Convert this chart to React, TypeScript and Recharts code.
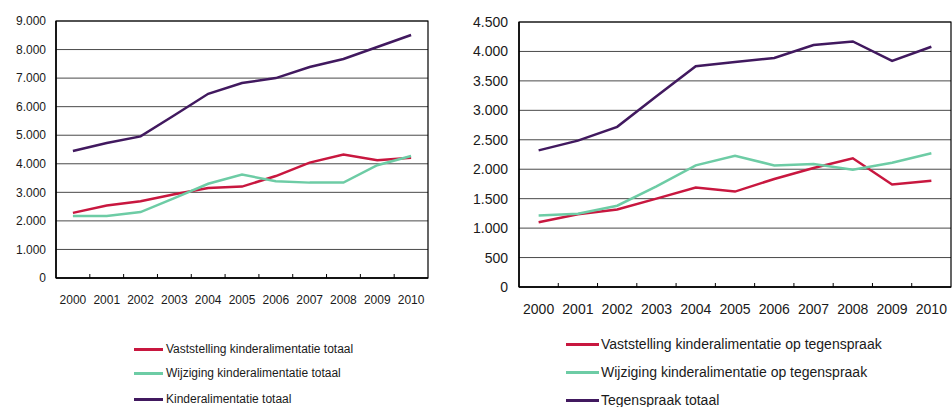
import React from 'react';
import { LineChart, Line, XAxis, YAxis, CartesianGrid, ReferenceArea } from 'recharts';

const years = ['2000', '2001', '2002', '2003', '2004', '2005', '2006', '2007', '2008', '2009', '2010'];

// Left chart: totals
const leftVaststelling = [2280, 2540, 2690, 2930, 3150, 3200, 3570, 4040, 4320, 4120, 4210];
const leftWijziging = [2170, 2170, 2310, 2800, 3300, 3620, 3390, 3340, 3340, 3950, 4270];
const leftTotaal = [4450, 4730, 4960, 5700, 6450, 6830, 7000, 7390, 7670, 8090, 8510];
const leftTicks = [0, 1000, 2000, 3000, 4000, 5000, 6000, 7000, 8000, 9000];
const leftNames = [
  'Vaststelling kinderalimentatie totaal',
  'Wijziging kinderalimentatie totaal',
  'Kinderalimentatie totaal',
];

// Right chart: op tegenspraak
const rightVaststelling = [1100, 1235, 1315, 1500, 1690, 1620, 1835, 2020, 2185, 1740, 1805];
const rightWijziging = [1215, 1245, 1380, 1710, 2065, 2230, 2065, 2090, 1990, 2110, 2270];
const rightTotaal = [2320, 2485, 2720, 3240, 3750, 3820, 3890, 4110, 4170, 3840, 4080];
const rightTicks = [0, 500, 1000, 1500, 2000, 2500, 3000, 3500, 4000, 4500];
const rightNames = [
  'Vaststelling kinderalimentatie op tegenspraak',
  'Wijziging kinderalimentatie op tegenspraak',
  'Tegenspraak totaal',
];

const colors = ['#C8173F', '#6DCCA5', '#41195F'];
const FONT = '"Liberation Sans", Arial, Helvetica, sans-serif';
const TEXT = '#1a1a1a';

const fmt = (n: number) => String(n).replace(/\B(?=(\d{3})+(?!\d))/g, '.');

const leftData = years.map((y, i) => ({ year: y, a: leftVaststelling[i], b: leftWijziging[i], c: leftTotaal[i] }));
const rightData = years.map((y, i) => ({ year: y, a: rightVaststelling[i], b: rightWijziging[i], c: rightTotaal[i] }));

function makeXTick(fontSize: number, tickMargin: number, half: number) {
  return (props: any) => {
    const { x, y, payload, index } = props;
    const axisY = y - tickMargin;
    return (
      <g>
        {index > 0 ? (
          <line x1={x - half} x2={x - half} y1={axisY} y2={axisY - 4} stroke="#000" strokeWidth={1} />
        ) : null}
        <text x={x} y={y} dy="0.71em" textAnchor="middle" fontSize={fontSize} fill={TEXT} fontFamily={FONT}>
          {payload.value}
        </text>
      </g>
    );
  };
}

type ChartProps = {
  data: any[];
  ticks: number[];
  width: number;
  height: number;
  margin: { top: number; right: number; left: number; bottom: number };
  yWidth: number;
  xHeight: number;
  fontSize: number;
  xTickMargin: number;
  yTickMargin: number;
  names: string[];
};

function Chart(p: ChartProps) {
  const max = p.ticks[p.ticks.length - 1];
  const plotW = p.width - p.margin.left - p.margin.right - p.yWidth;
  const half = plotW / years.length / 2;
  return (
    <LineChart width={p.width} height={p.height} data={p.data} margin={p.margin}>
      <CartesianGrid vertical={false} stroke="#4a4a4a" strokeWidth={1} />
      <XAxis
        dataKey="year"
        scale="band"
        interval={0}
        height={p.xHeight}
        axisLine={{ stroke: '#000', strokeWidth: 1.5 }}
        tickLine={false}
        tickSize={0}
        tickMargin={p.xTickMargin}
        tick={makeXTick(p.fontSize, p.xTickMargin, half)}
      />
      <YAxis
        domain={[0, max]}
        ticks={p.ticks}
        interval={0}
        width={p.yWidth}
        axisLine={{ stroke: '#000', strokeWidth: 1.5 }}
        tickLine={false}
        tickSize={0}
        tickMargin={p.yTickMargin}
        tickFormatter={fmt}
        tick={{ fontSize: p.fontSize, fill: TEXT, fontFamily: FONT }}
      />
      <ReferenceArea y1={0} y2={max} fill="none" stroke="#000" strokeWidth={1.2} ifOverflow="visible" />
      <Line dataKey="a" name={p.names[0]} stroke={colors[0]} strokeWidth={2.5} dot={false} isAnimationActive={false} />
      <Line dataKey="b" name={p.names[1]} stroke={colors[1]} strokeWidth={2.5} dot={false} isAnimationActive={false} />
      <Line dataKey="c" name={p.names[2]} stroke={colors[2]} strokeWidth={2.5} dot={false} isAnimationActive={false} />
    </LineChart>
  );
}

function LegendBlock(props: { names: string[]; left: number; ys: number[]; lineW: number; fontSize: number; gap: number }) {
  return (
    <>
      {props.names.map((n, i) => (
        <div
          key={n}
          style={{
            position: 'absolute',
            left: props.left,
            top: props.ys[i] - 10,
            height: 20,
            display: 'flex',
            alignItems: 'center',
            fontFamily: FONT,
            fontSize: props.fontSize,
            color: TEXT,
            whiteSpace: 'nowrap',
          }}
        >
          <div style={{ width: props.lineW, height: 3, background: colors[i], marginRight: props.gap }} />
          <span>{n}</span>
        </div>
      ))}
    </>
  );
}

export default function App() {
  return (
    <div style={{ position: 'absolute', left: 0, top: 0, width: 952, height: 407, background: '#fff', overflow: 'hidden' }}>
      <div style={{ position: 'absolute', left: 0, top: 0 }}>
        <Chart
          data={leftData}
          ticks={leftTicks}
          width={440}
          height={310}
          margin={{ top: 21, right: 12, left: 0, bottom: 0 }}
          yWidth={56}
          xHeight={32}
          fontSize={12}
          xTickMargin={17}
          yTickMargin={10}
          names={leftNames}
        />
      </div>
      <div style={{ position: 'absolute', left: 460, top: 0 }}>
        <Chart
          data={rightData}
          ticks={rightTicks}
          width={492}
          height={330}
          margin={{ top: 22, right: 1, left: 0, bottom: 0 }}
          yWidth={59}
          xHeight={43}
          fontSize={14}
          xTickMargin={17}
          yTickMargin={11}
          names={rightNames}
        />
      </div>
      <LegendBlock names={leftNames} left={134} ys={[349, 373, 399]} lineW={29} fontSize={12} gap={3} />
      <LegendBlock names={rightNames} left={566} ys={[344, 372, 400]} lineW={33} fontSize={14} gap={2} />
    </div>
  );
}
